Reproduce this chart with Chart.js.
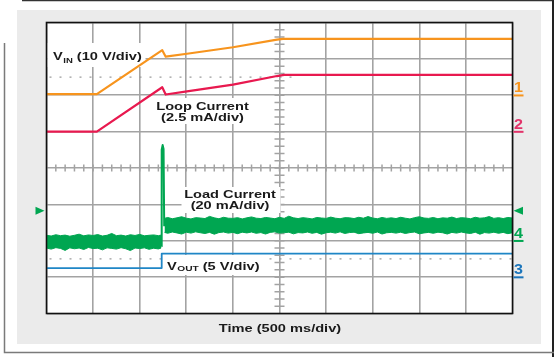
<!DOCTYPE html>
<html><head><meta charset="utf-8">
<script src="https://cdn.jsdelivr.net/npm/chart.js@4/dist/chart.umd.min.js"></script>
<style>html,body{margin:0;padding:0;background:#fff;}#wrap{width:554px;height:357px;}</style>
</head><body><div id="wrap"><canvas id="c" width="554" height="357"></canvas></div>
<script>
// ---- Data (time in ms, 500 ms/div) ----
const vinT = [0, 540, 1242, 1279, 1507, 2001, 2473, 2537, 5000];
const vinV = [0.3, 0.3, 12.4, 10.6, 11.4, 13.2, 15.3, 15.5, 15.5];           // V (10 V/div)
const loopT = [0, 540, 1242, 1279, 1507, 2001, 2473, 2550, 5000];
const loopMA = [0, 0, 3.05, 2.55, 2.77, 3.23, 3.82, 3.9, 3.9];              // mA (2.5 mA/div)
const voutT = [0, 1236, 1236, 5000];
const voutV = [1.25, 1.25, 3.23, 3.23];                                     // V (5 V/div)
const spikeT = [1232, 1236, 1246, 1256, 1263, 1266];
const spikeMA = [-3, 50, 52.6, 50.5, 8, 8];                                 // mA (20 mA/div)
const preT = [0,50,100,150,200,250,300,350,400,450,500,550,600,650,700,750,800,850,900,950,1000,1050,1100,1150,1200,1230];
const preUpMA = [3.0,2.6,3.3,2.8,3.1,2.5,3.0,3.6,2.7,3.2,2.9,3.4,2.6,3.0,4.0,2.8,3.1,2.6,3.3,2.9,3.5,2.7,3.0,3.2,2.8,3.1];
const preLoMA = [-4.0,-4.6,-3.8,-4.2,-5.3,-3.9,-4.4,-4.0,-4.8,-3.7,-4.3,-4.1,-5.0,-3.9,-4.2,-4.6,-3.8,-4.4,-5.4,-4.0,-4.3,-3.9,-4.7,-4.1,-4.5,-4.0];
const postT = [1266,1300,1350,1400,1450,1500,1550,1600,1650,1700,1750,1800,1850,1900,1950,2000,2050,2100,2150,2200,2250,2300,2350,2400,2450,2500,2550,2600,2650,2700,2750,2800,2850,2900,2950,3000,3050,3100,3150,3200,3250,3300,3350,3400,3450,3500,3550,3600,3650,3700,3750,3800,3850,3900,3950,4000,4050,4100,4150,4200,4250,4300,4350,4400,4450,4500,4550,4600,4650,4700,4750,4800,4850,4900,4950,5000];
const postUpMA = [12.3,12.8,12.1,12.6,13.2,12.4,12.0,12.7,12.5,12.2,13.4,12.6,12.1,12.9,12.4,12.3,12.7,12.0,12.6,13.1,12.4,12.2,12.8,12.5,12.1,12.9,12.3,13.5,12.6,12.2,12.7,12.4,12.0,12.8,12.5,12.3,13.0,12.4,12.1,12.7,12.6,12.2,12.9,12.4,13.3,12.5,12.1,12.8,12.3,12.6,12.2,12.9,12.4,12.0,12.7,13.2,12.5,12.3,12.8,12.1,12.6,12.4,13.0,12.2,12.7,12.5,12.1,12.9,12.4,12.6,13.3,12.3,12.7,12.2,12.8,12.5];
const postLoMA = [4.6,4.1,4.8,4.3,3.7,4.7,4.2,4.9,4.4,4.0,4.6,3.6,4.5,4.8,4.2,4.6,3.9,4.7,4.3,4.8,4.1,4.5,3.7,4.6,4.9,4.2,4.4,4.7,3.8,4.5,4.3,4.8,4.1,4.6,3.6,4.4,4.7,4.2,4.9,4.0,4.5,4.7,3.9,4.3,4.6,4.1,4.8,3.7,4.4,4.6,4.2,4.7,4.0,4.5,4.8,3.8,4.3,4.6,4.1,4.7,4.4,3.7,4.6,4.2,4.8,4.3,4.0,4.7,3.6,4.5,4.2,4.7,4.1,4.6,3.9,4.4];
const trigLevelMA = 16.5;
const labels = {
  vin: ['V', 'IN', ' (10 V/div)'],
  loop: ['Loop Current', '(2.5 mA/div)'],
  load: ['Load Current', '(20 mA/div)'],
  vout: ['V', 'OUT', ' (5 V/div)'],
  time: 'Time (500 ms/div)',
  channels: ['1', '2', '3', '4']
};

const ORANGE = '#f7941d', RED = '#e8194f', GREEN = '#00a651', BLUE = '#1f86c6';
const pts = (t, v) => t.map((x, i) => ({x: x, y: v[i]}));

function txt(ctx, s, x, y, size, color, align, sx) {
  ctx.save();
  ctx.font = 'bold ' + size + 'px "Liberation Sans", Arial, sans-serif';
  ctx.fillStyle = color;
  ctx.textBaseline = 'alphabetic';
  ctx.textAlign = 'left';
  const w = ctx.measureText(s).width * sx;
  let x0 = x;
  if (align === 'center') x0 = x - w / 2;
  else if (align === 'right') x0 = x - w;
  ctx.translate(x0, y);
  ctx.scale(sx, 1);
  ctx.fillText(s, 0, 0);
  ctx.restore();
  return x0 + w;
}

const scope = {
  id: 'scope',
  beforeDraw(chart) {
    const c = chart.ctx, a = chart.chartArea;
    c.save();
    c.fillStyle = '#fff'; c.fillRect(0, 0, 554, 357);
    c.fillStyle = '#ebebeb'; c.fillRect(17, 10, 524, 334);
    c.fillStyle = '#fff'; c.fillRect(a.left, a.top, a.right - a.left, a.bottom - a.top);
    c.strokeStyle = '#333'; c.lineWidth = 1.2;
    c.beginPath(); c.moveTo(22, 0.6); c.lineTo(554, 0.6); c.stroke();
    c.strokeStyle = '#222'; c.lineWidth = 2;
    c.beginPath(); c.moveTo(553, 0); c.lineTo(553, 357); c.stroke();
    c.strokeStyle = '#7a7a7a'; c.lineWidth = 1.5;
    c.beginPath(); c.moveTo(4.5, 43); c.lineTo(4.5, 352.5); c.lineTo(554, 352.5); c.stroke();
    c.restore();
  },
  beforeDatasetsDraw(chart) {
    const c = chart.ctx, a = chart.chartArea, sx = chart.scales.x, sy = chart.scales.y;
    c.save();
    // center axis minor ticks
    c.strokeStyle = '#a3a3a3'; c.lineWidth = 1.5;
    const cx = sx.getPixelForValue(2500), cy = sy.getPixelForValue(4);
    c.beginPath();
    for (let k = 1; k < 40; k++) {
      const yy = sy.getPixelForValue(k * 0.2);
      c.moveTo(cx - 5, yy); c.lineTo(cx + 5, yy);
    }
    for (let k = 1; k < 50; k++) {
      const xx = sx.getPixelForValue(k * 100);
      c.moveTo(xx, cy - 3.5); c.lineTo(xx, cy + 3.5);
    }
    c.stroke();
    // dotted reference lines
    c.setLineDash([2, 8]); c.lineWidth = 1.2; c.strokeStyle = '#9a9a9a';
    c.beginPath();
    c.moveTo(a.left + 3, sy.getPixelForValue(6.5)); c.lineTo(sx.getPixelForValue(2700), sy.getPixelForValue(6.5));
    c.moveTo(a.left + 3, sy.getPixelForValue(1.5)); c.lineTo(a.right, sy.getPixelForValue(1.5));
    c.stroke();
    c.setLineDash([]);
    // label boxes
    c.fillStyle = '#fff';
    c.fillRect(a.left + 1, 43, 98, 24);
    c.fillRect(153, 98, 97, 26);
    c.fillRect(181.5, 187, 99, 26);
    c.fillRect(163, 255, 99, 20);
    c.restore();
    const k = '#1a1a1a', S = 1.27;
    // VIN
    let e = txt(c, labels.vin[0], 53, 60, 11.5, k, 'left', S);
    e = txt(c, labels.vin[1], e + 0.5, 62.5, 7.5, k, 'left', S);
    txt(c, labels.vin[2], e, 60, 11.5, k, 'left', S);
    // Loop current
    txt(c, labels.loop[0], 202.5, 110, 11.5, k, 'center', S);
    txt(c, labels.loop[1], 202.5, 120.5, 11.5, k, 'center', S);
    // Load current
    txt(c, labels.load[0], 230, 197.5, 11.5, k, 'center', S);
    txt(c, labels.load[1], 230, 208.5, 11.5, k, 'center', S);
    // VOUT
    e = txt(c, labels.vout[0], 167, 270, 11.5, k, 'left', S);
    e = txt(c, labels.vout[1], e + 0.5, 270.5, 8, k, 'left', S);
    txt(c, labels.vout[2], e, 270, 11.5, k, 'left', S);
    // Time
    txt(c, labels.time, 280, 332, 11.5, k, 'center', S);
  },
  afterDraw(chart) {
    const c = chart.ctx, a = chart.chartArea, s = chart.scales;
    c.save();
    c.strokeStyle = '#111'; c.lineWidth = 1.6;
    c.strokeRect(a.left, a.top, a.right - a.left, a.bottom - a.top);
    // channel ground markers
    const marks = [
      [labels.channels[0], ORANGE, s.yV.getPixelForValue(0)],
      [labels.channels[1], '#e2336a', s.yL.getPixelForValue(0)],
      [labels.channels[2], '#1b75bb', s.yO.getPixelForValue(0)],
      [labels.channels[3], GREEN, s.yI.getPixelForValue(0)]
    ];
    marks.forEach(m => {
      txt(c, m[0], 518.5, m[2] - 3, 14, m[1], 'center', 1.15);
      c.fillStyle = m[1];
      c.fillRect(513.5, m[2] - 0.8, 10, 2);
    });
    // trigger arrows
    const ty = s.yI.getPixelForValue(trigLevelMA);
    c.fillStyle = GREEN;
    c.beginPath(); c.moveTo(513.5, ty); c.lineTo(523, ty - 4); c.lineTo(523, ty + 4); c.closePath(); c.fill();
    c.beginPath(); c.moveTo(44.5, ty); c.lineTo(35.5, ty - 4); c.lineTo(35.5, ty + 4); c.closePath(); c.fill();
    c.restore();
  }
};

const gridOpts = {color: '#a3a3a3', lineWidth: 1.6, drawTicks: false};
new Chart(document.getElementById('c'), {
  type: 'line',
  data: {
    datasets: [
      {data: pts(preT, preUpMA), yAxisID: 'yI', borderColor: GREEN, borderWidth: 1, fill: false},
      {data: pts(preT, preLoMA), yAxisID: 'yI', borderColor: GREEN, borderWidth: 1, fill: '-1', backgroundColor: GREEN},
      {data: pts(postT, postUpMA), yAxisID: 'yI', borderColor: GREEN, borderWidth: 1, fill: false},
      {data: pts(postT, postLoMA), yAxisID: 'yI', borderColor: GREEN, borderWidth: 1, fill: '-1', backgroundColor: GREEN},
      {data: pts(spikeT, spikeMA), yAxisID: 'yI', borderColor: GREEN, borderWidth: 2, fill: false},
      {data: pts(voutT, voutV), yAxisID: 'yO', borderColor: BLUE, borderWidth: 1.8, fill: false},
      {data: pts(loopT, loopMA), yAxisID: 'yL', borderColor: RED, borderWidth: 2.2, fill: false},
      {data: pts(vinT, vinV), yAxisID: 'yV', borderColor: ORANGE, borderWidth: 2.2, fill: false}
    ]
  },
  options: {
    responsive: false, animation: false, devicePixelRatio: 1,
    layout: {padding: {left: 46.5, right: 41.5, top: 22.5, bottom: 43.5}},
    plugins: {legend: {display: false}, tooltip: {enabled: false}},
    elements: {point: {radius: 0}, line: {tension: 0, borderJoinStyle: 'round'}},
    scales: {
      x: {type: 'linear', min: 0, max: 5000, ticks: {display: false, stepSize: 500}, grid: gridOpts, border: {display: false}},
      y: {type: 'linear', min: 0, max: 8, ticks: {display: false, stepSize: 1}, grid: gridOpts, border: {display: false}},
      yV: {type: 'linear', display: false, min: -60, max: 20},
      yL: {type: 'linear', display: false, min: -12.5, max: 7.5},
      yI: {type: 'linear', display: false, min: -40, max: 120},
      yO: {type: 'linear', display: false, min: -5, max: 35}
    }
  },
  plugins: [scope]
});
</script>
</body></html>
